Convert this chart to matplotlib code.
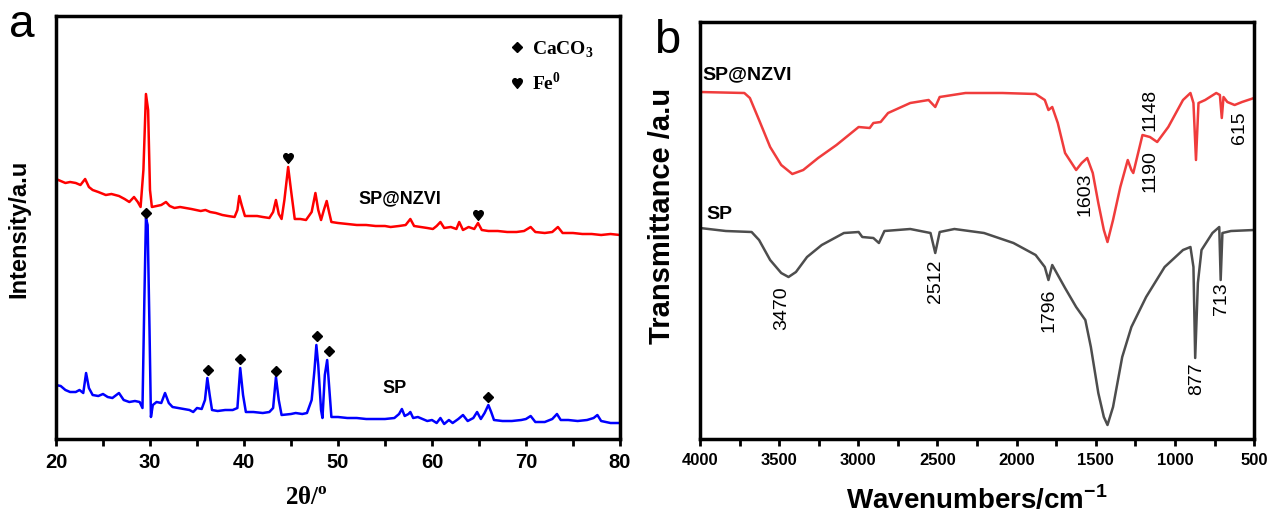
import matplotlib
matplotlib.use('Agg')
from matplotlib import pyplot as plt
from matplotlib.lines import Line2D
from matplotlib.ticker import MultipleLocator

plt.rcParams['font.family'] = ['Liberation Sans', 'DejaVu Sans']

# ---- XRD data (2theta / degree, intensity a.u.) ----
xrd_sp_theta = [20.0, 20.5, 21.0, 21.5, 22.1, 22.5, 22.9, 23.2, 23.5, 23.9, 24.5, 25.0, 25.5, 26.0,
                26.7, 27.2, 27.8, 28.4, 28.9, 29.2, 29.4, 29.57, 29.75, 29.95, 30.1, 30.3, 30.7,
                31.2, 31.6, 32.0, 32.4, 33.0, 33.6, 34.2, 34.6, 35.0, 35.5, 35.85, 36.1, 36.35,
                36.6, 37.2, 38.0, 38.8, 39.3, 39.6, 39.9, 40.2, 41.0, 42.0, 42.7, 43.1, 43.4, 43.7,
                44.0, 45.0, 45.5, 46.2, 46.7, 47.2, 47.5, 47.7, 47.9, 48.2, 48.35, 48.6, 48.85,
                49.05, 49.3, 50.0, 51.0, 52.0, 53.0, 54.0, 55.0, 56.0, 56.5, 56.8, 57.1, 57.5,
                57.7, 58.0, 58.5, 59.0, 59.5, 60.0, 60.5, 60.9, 61.3, 61.8, 62.2, 62.8, 63.3,
                63.8, 64.4, 64.8, 65.2, 65.6, 66.0, 66.3, 66.6, 67.5, 68.5, 69.5, 70.0, 70.5,
                71.0, 72.0, 72.8, 73.3, 73.7, 74.5, 75.5, 76.5, 77.2, 77.6, 78.0, 79.0, 80.0]
xrd_sp_int = [54, 53, 49, 47, 47, 49, 46, 66, 51, 44, 43, 45, 42, 41,
              46, 39, 37, 38, 37, 31, 139, 221, 214, 109, 22, 34, 37,
              36, 46, 36, 32, 31, 30, 29, 27, 31, 30, 39, 61, 44,
              29, 28, 29, 29, 31, 71, 44, 27, 27, 26, 27, 31, 62, 39,
              24, 25, 26, 25, 26, 39, 69, 94, 74, 29, 21, 64, 79,
              54, 22, 22, 21, 21, 20, 20, 20, 21, 25, 30, 23, 25,
              27, 21, 22, 20, 18, 19, 16, 21, 15, 19, 16, 20, 24,
              18, 21, 27, 20, 26, 34, 27, 19, 18, 18, 19, 20, 23,
              17, 17, 20, 25, 19, 19, 18, 19, 21, 24, 18, 16, 16]

xrd_nzvi_theta = [20.0, 20.5, 21.0, 21.5, 22.1, 22.6, 23.1, 23.5, 23.9, 24.5, 25.3, 25.9, 26.7,
                  27.3, 27.8, 28.3, 28.7, 29.0, 29.3, 29.57, 29.8, 30.0, 30.2, 30.7, 31.2, 31.7,
                  32.1, 32.6, 33.2, 33.8, 34.4, 34.9, 35.4, 35.9, 36.4, 37.0, 37.7, 38.3, 39.0,
                  39.3, 39.5, 39.75, 40.1, 40.8, 41.4, 42.0, 42.7, 43.1, 43.4, 43.7, 44.0, 44.3,
                  44.7, 45.0, 45.4, 46.0, 46.6, 47.2, 47.6, 47.9, 48.2, 48.5, 48.8, 49.05, 49.3,
                  50.0, 51.0, 52.0, 53.0, 54.0, 55.0, 55.6, 56.5, 57.2, 57.7, 58.1, 58.8, 59.5,
                  60.1, 60.5, 60.9, 61.3, 62.0, 62.6, 62.9, 63.3, 63.9, 64.5, 64.9, 65.3, 66.0,
                  67.0, 68.0, 69.0, 69.8, 70.5, 71.0, 72.0, 72.8, 73.4, 73.9, 75.0, 76.0, 77.0,
                  78.0, 79.0, 80.0]
xrd_nzvi_int = [260, 258, 256, 257, 256, 254, 260, 252, 249, 247, 244, 245, 243,
                240, 237, 242, 237, 232, 269, 345, 329, 249, 232, 233, 234, 237,
                233, 231, 232, 231, 230, 229, 228, 229, 227, 226, 224, 223, 222,
                229, 243, 234, 223, 223, 223, 222, 221, 227, 239, 225, 220, 239,
                272, 249, 220, 220, 219, 227, 246, 229, 219, 229, 238, 227, 217,
                216, 215, 214, 214, 213, 213, 212, 213, 214, 220, 213, 212, 211,
                210, 213, 217, 211, 212, 210, 217, 209, 212, 210, 216, 209, 208,
                208, 207, 207, 208, 212, 207, 206, 207, 212, 206, 206, 205, 205,
                204, 205, 204]

# peak markers
caco3_theta = [29.55, 36.15, 39.6, 43.45, 47.8, 49.05, 66.0]
caco3_y = [226, 69, 80, 68, 103, 88, 42]
fe_theta = [44.7, 64.9]
fe_y = [281, 224]

# ---- FTIR data (wavenumber / cm-1, transmittance a.u.) ----
ftir_nzvi_wn = [4000, 3720, 3685, 3627, 3557, 3487, 3417, 3348, 3254, 3138, 2998, 2928, 2905,
                2859, 2812, 2672, 2556, 2514, 2486, 2323, 2090, 1880, 1822, 1799, 1775, 1740,
                1694, 1624, 1589, 1554, 1519, 1484, 1449, 1426, 1391, 1345, 1298, 1275, 1263,
                1205, 1158, 1112, 1042, 949, 902, 883, 867, 851, 809, 739, 716, 704, 693, 669,
                623, 576, 500]
ftir_nzvi_t = [347, 346, 341, 319, 292, 274, 265, 269, 281, 294, 312, 311, 316,
               317, 326, 336, 339, 332, 342, 346, 346, 345, 339, 329, 332, 316,
               286, 269, 276, 281, 266, 236, 209, 197, 219, 252, 279, 269, 266,
               304, 302, 297, 312, 339, 346, 336, 279, 336, 339, 346, 344, 321, 342, 337,
               334, 337, 341]

ftir_sp_wn = [4000, 3837, 3674, 3627, 3557, 3487, 3441, 3394, 3324, 3231, 3091, 2998, 2975,
              2905, 2870, 2835, 2672, 2544, 2514, 2486, 2393, 2206, 2020, 1880, 1822, 1799,
              1775, 1694, 1624, 1566, 1531, 1484, 1449, 1426, 1391, 1333, 1275, 1182, 1065,
              949, 902, 883, 872, 855, 832, 763, 720, 711, 700, 646, 500]
ftir_sp_t = [211, 208, 207, 199, 179, 166, 162, 167, 182, 194, 206, 207, 202,
             201, 196, 208, 210, 206, 186, 207, 210, 206, 196, 184, 172, 159,
             174, 151, 132, 119, 92, 46, 22, 14, 32, 82, 112, 142, 172,
             189, 192, 172, 81, 156, 189, 206, 212, 159, 206, 208, 209]

band_labels = ['3470', '2512', '1796', '877', '713', '1603', '1190', '1148', '615']
band_x = [3483, 2513, 1797, 861, 703, 1566, 1158, 1158, 589]
band_y = [131, 158, 129, 60, 140, 245, 268, 329, 311]

fig = plt.figure(figsize=(12.67, 5.14), dpi=100)

# ================= panel a: XRD =================
ax1 = fig.add_axes([0.0442, 0.1459, 0.4451, 0.8230])
ax1.plot(xrd_nzvi_theta, xrd_nzvi_int, color='#ff0000', lw=1.8)
ax1.plot(xrd_sp_theta, xrd_sp_int, color='#0000ff', lw=1.8)
ax1.plot(caco3_theta, caco3_y, ls='none', marker='D', ms=5, color='black')
ax1.plot(fe_theta, fe_y, ls='none', marker='$\u2665$', ms=7, color='black')

ax1.text(56.6, 240, 'SP@NZVI', fontsize=13, fontweight='bold', ha='center', va='center')
ax1.text(56.0, 51, 'SP', fontsize=13, fontweight='bold', ha='center', va='center')

ax1.set_xlim(20, 80)
ax1.set_ylim(0, 423)
ax1.set_yticks([])
ax1.xaxis.set_major_locator(MultipleLocator(10))
ax1.xaxis.set_minor_locator(MultipleLocator(5))
ax1.tick_params(axis='x', which='both', direction='out', length=5, width=2, labelsize=14.5, pad=5)
plt.setp(ax1.get_xticklabels(), fontweight='bold')
for s in ax1.spines.values():
    s.set_linewidth(2.5)

ax1.set_xlabel('2\u03b8/$^{\\mathregular{o}}$', family='Liberation Serif', fontweight='bold', fontsize=18)
ax1.xaxis.set_label_coords((306 - 56) / 564, -0.14)
ax1.xaxis.label.set_va('center')
ax1.set_ylabel('Intensity/a.u', fontweight='bold', fontsize=17)
ax1.yaxis.set_label_coords(-0.046, 0.496)

leg_handles = [Line2D([], [], ls='none', marker='D', ms=5, color='black'),
               Line2D([], [], ls='none', marker='$\u2665$', ms=7, color='black')]
ax1.legend(leg_handles, ['CaCO$_\\mathregular{3}$', 'Fe$^\\mathregular{0}$'],
           prop={'family': 'Liberation Serif', 'weight': 'bold', 'size': 14},
           loc='upper left', bbox_to_anchor=(0.807, 0.945), frameon=False,
           borderaxespad=0, borderpad=0, handlelength=0.6, handletextpad=0.5, labelspacing=0.6)

# ================= panel b: FTIR =================
ax2 = fig.add_axes([0.5525, 0.1459, 0.4373, 0.8113])
ax2.plot(ftir_nzvi_wn, ftir_nzvi_t, color='#f03c3c', lw=1.8)
ax2.plot(ftir_sp_wn, ftir_sp_t, color='#4d4d4d', lw=1.8)

for lab, bx, by in zip(band_labels, band_x, band_y):
    ax2.text(bx, by, lab, rotation=90, fontsize=14, ha='center', va='center')

ax2.text(3987, 364, 'SP@NZVI', fontsize=14, fontweight='bold', ha='left', va='center')
ax2.text(3962, 225, 'SP', fontsize=14, fontweight='bold', ha='left', va='center')

ax2.set_xlim(4000, 500)
ax2.set_ylim(0, 417)
ax2.set_yticks([])
ax2.xaxis.set_major_locator(MultipleLocator(500))
ax2.xaxis.set_minor_locator(MultipleLocator(250))
ax2.tick_params(axis='x', which='both', direction='out', length=5, width=2, labelsize=12, pad=5)
plt.setp(ax2.get_xticklabels(), fontweight='bold')
for s in ax2.spines.values():
    s.set_linewidth(2.5)

ax2.set_xlabel('Wavenumbers/cm$^{\\mathregular{-1}}$', fontweight='bold', fontsize=20)
ax2.xaxis.set_label_coords(0.5, -0.146)
ax2.xaxis.label.set_va('center')
ax2.set_ylabel('Transmittance /a.u', fontweight='bold', fontsize=21)
ax2.yaxis.set_label_coords(-0.043, 0.535)

# panel letters
fig.text(22 / 1267, 1 - 37 / 514, 'a', fontsize=33, ha='center', va='baseline')
fig.text(667 / 1267, 1 - 53 / 514, 'b', fontsize=34, ha='center', va='baseline')

plt.savefig('out.png', dpi=100)
